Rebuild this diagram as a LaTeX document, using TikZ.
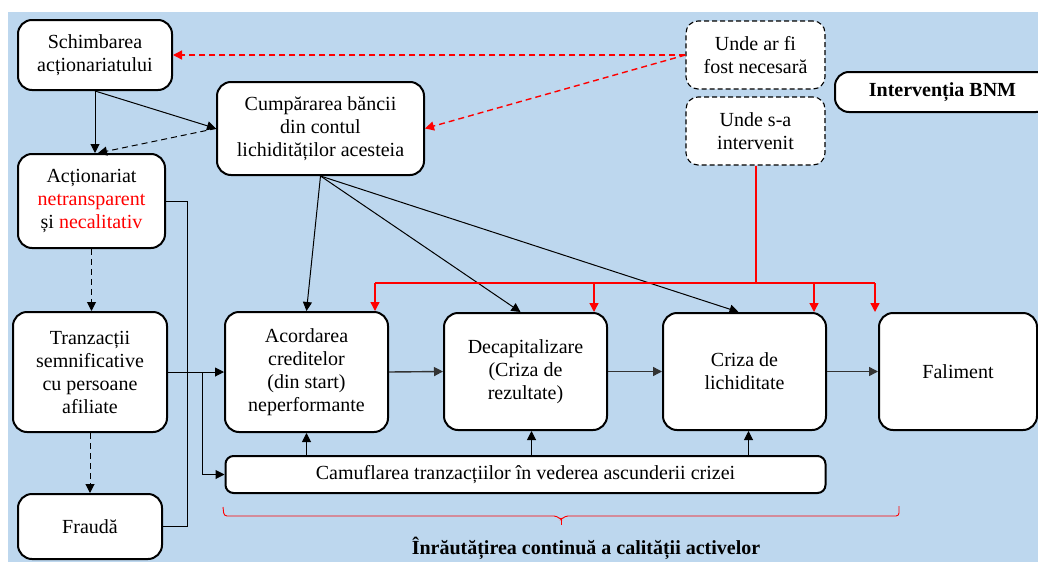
\documentclass[tikz,border=0pt]{standalone}
\usepackage{fontspec}
\setmainfont{Liberation Serif}
\usetikzlibrary{arrows.meta}
\definecolor{sky}{HTML}{BDD7EE}
\definecolor{alarm}{HTML}{FF0000}

\begin{document}
\begin{tikzpicture}[x=1pt,y=-1pt,font=\fontsize{20}{23}\selectfont,
  >={Triangle[length=9pt,width=9pt]},
  box/.style={draw,line width=2pt,rounded corners=14pt,fill=white,align=center,inner sep=0pt},
  hint/.style={draw,dash pattern=on 5pt off 3pt,line width=1.1pt,rounded corners=12pt,fill=white,align=center,inner sep=0pt},
  wire/.style={draw=black,line width=1pt},
  longdash/.style={dash pattern=on 6pt off 4pt},
  flow/.style={->,draw=black!80,line width=1.4pt},
  redline/.style={color=alarm,line width=1.4pt}]
 \def\bigW{163pt}
 \clip (0,0) rectangle (1038,562);
 \fill[sky] (8,12) rectangle (1038,562);

 % left column
 \node[box,minimum width=154pt,minimum height=70pt] (sch) at (95,55) {Schimbarea\\acționariatului};
 \node[box,minimum width=147pt,minimum height=94pt] (act) at (91.5,201)
   {Acționariat\\\textcolor{alarm}{netransparent}\\și \textcolor{alarm}{necalitativ}};
 \node[box,minimum width=154pt,minimum height=120pt] (tranz) at (90,372)
   {Tranzacții\\semnificative\\cu persoane\\afiliate};
 \node[box,minimum width=144pt,minimum height=65pt] (fraud) at (90,526.5) {Fraudă};

 % top
 \node[box,minimum width=207pt,minimum height=93pt] (cump) at (320.5,128.5)
   {Cumpărarea băncii\\din contul\\lichidităților acesteia};
 \node[hint,minimum width=139pt,minimum height=68pt] (undeF) at (755.5,55) {Unde ar fi\\fost necesară};
 \node[hint,minimum width=139pt,minimum height=68pt] (undeS) at (755.5,131) {Unde s-a\\intervenit};
 \node[box,minimum width=215pt,minimum height=40pt] (bnm) at (942.5,92) {\bfseries Intervenția BNM};

 % main chain
 \node[box,minimum width=\bigW,minimum height=120pt] (acord) at (306.5,372)
   {Acordarea\\creditelor\\(din start)\\neperformante};
 \node[box,minimum width=\bigW,minimum height=117pt] (decap) at (525.5,371.5)
   {Decapitalizare\\(Criza de\\rezultate)};
 \node[box,minimum width=\bigW,minimum height=117pt] (criza) at (744.5,371.5) {Criza de\\lichiditate};
 \node[box,minimum width=158pt,minimum height=117pt] (fal) at (958,371.5) {Faliment};
 \node[box,rounded corners=8pt,minimum width=600pt,minimum height=37pt] (camuf) at (525.5,474.5)
   {Camuflarea tranzacțiilor în vederea ascunderii crizei};

 \draw[wire,->] (sch.south) -- (sch.south |- act.north);
 \draw[wire,->] (sch.south) -- (cump.west);
 \draw[wire,->,longdash] (cump.west) -- ([xshift=3pt]sch.south |- act.north);
 \draw[wire,->,longdash] (act.south) -- (act.south |- tranz.north);
 \draw[wire,->,longdash] (tranz.south) -- (fraud.north);
 \draw[redline,->,longdash] (undeF.west) -- (sch.east);
 \draw[redline,->,longdash] (undeF.west) -- (cump.east);

 \draw[wire] (act.east) -- ++(21.5,0) |- (fraud.east);
 \draw[wire,->] (tranz.east) -- (acord.west) coordinate[pos=0.62] (fork);
 \draw[wire,->] (fork) |- (camuf.west);

 \draw[wire,->] (cump.south) -- (acord.north);
 \draw[wire,->] (cump.south) -- ([xshift=-5pt]decap.north);
 \draw[wire,->] (cump.south) -- ([xshift=-6pt]criza.north);

 \draw[flow] (acord.east) -- (decap.west);
 \draw[flow] (decap.east) -- (criza.west);
 \draw[flow] (criza.east) -- (fal.west);

 \draw[wire,->] (acord.south |- camuf.north) -- (acord.south);
 \draw[wire,->] ([xshift=6pt]decap.south |- camuf.north) -- ([xshift=6pt]decap.south);
 \draw[wire,->] ([xshift=4pt]criza.south |- camuf.north) -- ([xshift=4pt]criza.south);

 % interventions
 \coordinate (hub) at ([yshift=-117.5pt]undeS.south);
 \draw[redline,line width=2pt] (undeS.south) -- (hub);
 \draw[redline,line width=2pt] ([xshift=-14pt]acord.north east |- hub) -- ([xshift=-3pt]fal.north west |- hub);
 \foreach \n/\dx in {acord/-14,decap/-14,criza/-13}
   \draw[redline,->] ([xshift=\dx pt]\n.north east |- hub) -- ([xshift=\dx pt]\n.north east);
 \draw[redline,->] ([xshift=-3pt]fal.north west |- hub) -- ([xshift=-3pt]fal.north west);

 % brace under the chain
 \coordinate (braceL) at (223,507);
 \coordinate (braceR) at (899,506);
 \draw[color=alarm,line width=0.9pt,rounded corners=3pt]
   (braceL) -- ++(1,9) -- (557,516) -- (561,520) -- (565,516) -- ([yshift=-10pt]braceR) -- (braceR);
 \draw[color=alarm,line width=0.9pt] (561,519) -- (561,525);
 \node (caption) at (586,548) {\bfseries Înrăutățirea continuă a calității activelor};
\end{tikzpicture}
\end{document}
